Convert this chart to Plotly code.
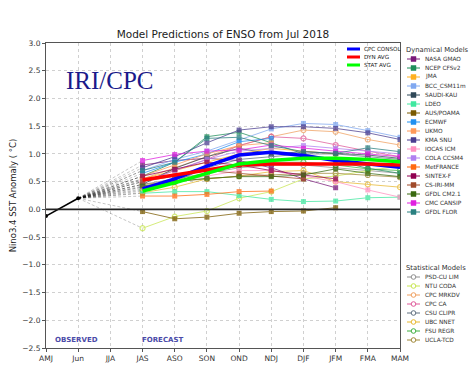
import plotly.graph_objects as go

# ---------------- data ----------------
seasons = ["AMJ", "Jun", "JJA", "JAS", "ASO", "SON", "OND", "NDJ", "DJF", "JFM", "FMA", "MAM"]
forecast_seasons = ["JAS", "ASO", "SON", "OND", "NDJ", "DJF", "JFM", "FMA", "MAM"]
observed_seasons = ["AMJ", "Jun"]
observed_values = [-0.12, 0.20]
y_ticks = [3.0, 2.5, 2.0, 1.5, 1.0, 0.5, 0.0, -0.5, -1.0, -1.5, -2.0, -2.5]

cpc_consol = [0.37, 0.55, 0.78, 0.98, 1.03, 0.97, 0.88, 0.82, 0.76]
dyn_avg = [0.53, 0.62, 0.71, 0.80, 0.82, 0.82, 0.82, 0.82, 0.80]
stat_avg = [0.33, 0.48, 0.65, 0.82, 0.88, 0.92, 0.92, 0.90, 0.86]

# dynamical models
nasa_gmao = [0.80, 0.88, 0.92, 0.88, 0.75, 0.55, 0.39, None, None]
ncep_cfsv2 = [0.60, 0.85, 1.31, 1.39, 1.20, 1.00, 0.88, 0.74, 0.65]
jma = [0.55, 0.70, 0.86, 1.00, 1.10, 1.05, 1.00, None, None]
bcc_csm11m = [0.70, 0.90, 1.05, 1.25, 1.45, 1.55, 1.53, 1.42, 1.30]
saudi_kau = [0.45, 0.74, 0.95, 1.10, 1.00, 1.04, 1.01, 0.98, 0.92]
ldeo = [0.29, 0.32, 0.32, 0.25, 0.18, 0.14, 0.15, 0.21, 0.22]
aus_poama = [-0.04, -0.17, -0.14, -0.07, -0.04, -0.03, 0.03, None, None]
ecmwf = [0.65, 0.85, 1.00, 1.22, 1.28, None, None, None, None]
ukmo = [0.60, 0.80, 1.00, 1.15, 1.20, None, None, None, None]
kma_snu = [0.75, 0.95, 1.20, 1.43, 1.49, 1.49, 1.46, 1.38, 1.26]
iocas_icm = [0.40, 0.50, 0.60, 0.70, 0.70, 0.60, 0.50, 0.35, 0.22]
cola_ccsm4 = [0.50, 0.70, 0.90, 1.05, 1.10, 1.15, 1.10, 1.05, 1.00]
metfrance = [0.24, 0.24, 0.27, 0.32, 0.33, None, None, None, None]
sintex_f = [0.60, 0.72, 0.85, 0.80, 0.70, 0.62, 0.55, None, None]
cs_iri_mm = [0.50, 0.60, 0.70, 0.65, 0.60, 0.55, None, None, None]
gfdl_cm21 = [0.42, 0.50, 0.56, 0.59, 0.59, 0.62, 0.73, 0.65, 0.59]
cmc_cansip = [0.88, 0.99, 1.05, 1.07, 1.16, 1.10, 1.05, 1.00, 0.95]
gfdl_flor = [0.70, 0.85, 1.28, 1.30, 1.15, 1.04, 1.01, 1.11, 1.04]

dyn_names = ["NASA GMAO", "NCEP CFSv2", "JMA", "BCC_CSM11m", "SAUDI-KAU", "LDEO", "AUS/POAMA",
             "ECMWF", "UKMO", "KMA SNU", "IOCAS ICM", "COLA CCSM4", "MetFRANCE", "SINTEX-F",
             "CS-IRI-MM", "GFDL CM2.1", "CMC CANSIP", "GFDL FLOR"]
dyn_series = [nasa_gmao, ncep_cfsv2, jma, bcc_csm11m, saudi_kau, ldeo, aus_poama, ecmwf, ukmo,
              kma_snu, iocas_icm, cola_ccsm4, metfrance, sintex_f, cs_iri_mm, gfdl_cm21,
              cmc_cansip, gfdl_flor]

# statistical models
psd_cu_lim = [0.45, 0.55, 0.65, 0.75, 0.80, 0.80, 0.75, 0.70, 0.65]
ntu_coda = [-0.34, -0.13, -0.03, 0.20, 0.32, 0.55, 0.60, 0.70, 0.78]
cpc_mrkdv = [0.55, 0.75, 0.95, 1.15, 1.31, 1.43, 1.40, 1.26, 1.16]
cpc_ca = [0.50, 0.70, 0.90, 1.15, 1.31, 1.28, 1.16, 1.05, 0.95]
csu_clipr = [0.40, 0.50, 0.75, 0.90, 0.95, 1.00, 1.00, 0.95, 0.90]
ubc_nnet = [0.30, 0.40, 0.55, 0.60, 0.68, 0.70, 0.50, 0.45, 0.40]
fsu_regr = [0.35, 0.50, 0.65, 0.80, 0.85, 0.85, 0.80, 0.73, 0.70]
ucla_tcd = [0.45, 0.50, 0.55, 0.60, 0.62, 0.65, 0.65, 0.62, 0.58]

stat_names = ["PSD-CU LIM", "NTU CODA", "CPC MRKDV", "CPC CA", "CSU CLIPR", "UBC NNET",
              "FSU REGR", "UCLA-TCD"]
stat_series = [psd_cu_lim, ntu_coda, cpc_mrkdv, cpc_ca, csu_clipr, ubc_nnet, fsu_regr, ucla_tcd]

avg_names = ["CPC CONSOL", "DYN AVG", "STAT AVG"]
avg_series = [cpc_consol, dyn_avg, stat_avg]

# ---------------- styles ----------------
dyn_colors = ["#7a1a7a", "#1f8f5a", "#ffb020", "#80a8f0", "#2f4858", "#40e8a0", "#7a5a00",
              "#2090f0", "#ff9a5a", "#4a3d90", "#ff90c0", "#b080f0", "#ff6a10", "#900050",
              "#a04a2a", "#3a6a10", "#e020e0", "#2a8080"]
stat_colors = ["#909090", "#c8e650", "#f0a060", "#e05a9a", "#607080", "#e8b830", "#40b040",
               "#a08838"]
avg_colors = ["#0000ff", "#ff0000", "#00ff00"]

W, H = 470, 386
L, R, T, B = 46, 70, 43, 38
PW, PH = W - L - R, H - T - B


def px_x(p):
    return (p - L) / PW


def px_y(p):
    return (H - B - p) / PH


fig = go.Figure()

# dashed connectors from last observation to first forecast
for series in dyn_series + stat_series + avg_series:
    fig.add_trace(go.Scatter(
        x=[observed_seasons[-1], forecast_seasons[0]], y=[observed_values[-1], series[0]],
        mode="lines", line=dict(color="rgba(0,0,0,0.32)", width=0.7, dash="3px,2px"),
        showlegend=False, hoverinfo="skip"))

# statistical models
for name, series, col in zip(stat_names, stat_series, stat_colors):
    fig.add_trace(go.Scatter(
        x=forecast_seasons, y=series, mode="lines+markers", name=name, opacity=0.75,
        line=dict(color=col, width=1),
        marker=dict(symbol="circle-open", size=5, color=col, line=dict(width=1.2)),
        showlegend=False))

# dynamical models
for name, series, col in zip(dyn_names, dyn_series, dyn_colors):
    fig.add_trace(go.Scatter(
        x=forecast_seasons, y=series, mode="lines+markers", name=name, opacity=0.75,
        line=dict(color=col, width=1),
        marker=dict(symbol="square", size=5, color=col),
        showlegend=False))

# averages
for name, series, col in zip(avg_names, avg_series, avg_colors):
    fig.add_trace(go.Scatter(
        x=forecast_seasons, y=series, mode="lines", name=name,
        line=dict(color=col, width=3.5), showlegend=False))

# observed
fig.add_trace(go.Scatter(
    x=observed_seasons, y=observed_values, mode="lines+markers", name="Observed",
    line=dict(color="black", width=1.5), marker=dict(color="black", size=4),
    showlegend=False))

shapes = []
annotations = []

# zero line
shapes.append(dict(type="line", xref="paper", yref="y", x0=0, x1=1, y0=0, y1=0,
                   line=dict(color="#222", width=1.6), layer="above"))

# inside legend (averages)
for i, (name, col) in enumerate(zip(avg_names, avg_colors)):
    yy = 49 + 8 * i
    shapes.append(dict(type="line", xref="paper", yref="paper", x0=px_x(347), x1=px_x(360),
                       y0=px_y(yy), y1=px_y(yy), line=dict(color=col, width=3)))
    annotations.append(dict(xref="paper", yref="paper", x=px_x(362), y=px_y(yy), text=name,
                            showarrow=False, xanchor="left", yanchor="middle",
                            font=dict(size=5.6, color="#222")))


def legend_block(header, header_y, names, colors, symbol, first_y):
    annotations.append(dict(xref="paper", yref="paper", x=px_x(404), y=px_y(header_y),
                            text=header, showarrow=False, xanchor="left", yanchor="middle",
                            font=dict(size=6.8, color="#333")))
    for i, (name, col) in enumerate(zip(names, colors)):
        yy = first_y + 9 * i
        shapes.append(dict(type="line", xref="paper", yref="paper", x0=px_x(407), x1=px_x(420),
                           y0=px_y(yy), y1=px_y(yy), line=dict(color=col, width=1)))
        if symbol == "square":
            shapes.append(dict(type="rect", xref="paper", yref="paper",
                               x0=px_x(411), x1=px_x(416), y0=px_y(yy + 2.5), y1=px_y(yy - 2.5),
                               fillcolor=col, line=dict(color=col, width=0.5)))
        else:
            shapes.append(dict(type="circle", xref="paper", yref="paper",
                               x0=px_x(411.2), x1=px_x(415.8), y0=px_y(yy + 2.3),
                               y1=px_y(yy - 2.3), fillcolor="white",
                               line=dict(color=col, width=1)))
        annotations.append(dict(xref="paper", yref="paper", x=px_x(423), y=px_y(yy), text=name,
                                showarrow=False, xanchor="left", yanchor="middle",
                                font=dict(size=5.8, color="#333")))


legend_block("Dynamical Models", 50, dyn_names, dyn_colors, "square", 59)
legend_block("Statistical Models", 268, stat_names, stat_colors, "circle", 277)

# text labels
annotations.append(dict(xref="paper", yref="paper", x=px_x(110), y=px_y(80), text="IRI/CPC",
                        showarrow=False, xanchor="center", yanchor="middle",
                        font=dict(family="Liberation Serif", size=25, color="#1a1a8a")))
annotations.append(dict(xref="paper", yref="paper", x=px_x(76), y=px_y(340), text="<b>OBSERVED</b>",
                        showarrow=False, xanchor="center", yanchor="middle",
                        font=dict(size=7, color="#4a4aa8")))
annotations.append(dict(xref="paper", yref="paper", x=px_x(163), y=px_y(340), text="<b>FORECAST</b>",
                        showarrow=False, xanchor="center", yanchor="middle",
                        font=dict(size=7, color="#4a4aa8")))

fig.update_layout(
    width=W, height=H,
    margin=dict(l=L, r=R, t=T, b=B),
    paper_bgcolor="white", plot_bgcolor="white",
    font=dict(family="DejaVu Sans", color="#222"),
    title=dict(text="Model Predictions of ENSO from Jul 2018", x=px_x(223), xref="paper",
               xanchor="center", y=1 - 34 / H, yref="container", yanchor="middle",
               font=dict(size=10.5, color="#222")),
    shapes=shapes, annotations=annotations,
    showlegend=False,
    xaxis=dict(type="category", categoryorder="array", categoryarray=seasons,
               range=[0, len(seasons) - 1], tickvals=seasons, ticktext=seasons,
               showgrid=True, gridcolor="#d0d0d0", griddash="dot", gridwidth=1,
               showline=True, linecolor="#555", linewidth=1, mirror=True,
               ticks="outside", ticklen=3, tickcolor="#555",
               tickfont=dict(size=7.5, color="#333"), zeroline=False),
    yaxis=dict(range=[-2.5, 3.0], tickvals=y_ticks, tickformat=".1f",
               showgrid=True, gridcolor="#d0d0d0", griddash="dot", gridwidth=1,
               showline=True, linecolor="#555", linewidth=1, mirror=True,
               ticks="outside", ticklen=3, tickcolor="#555",
               tickfont=dict(size=7.5, color="#333"), zeroline=False,
               title=dict(text="Nino3.4 SST Anomaly ( °C)", font=dict(size=8.5, color="#222"),
                          standoff=4)),
)

fig.write_html("out.html",
               config=dict(displayModeBar=False),
               post_script="document.body.style.margin='0';document.body.style.overflow='hidden';")
